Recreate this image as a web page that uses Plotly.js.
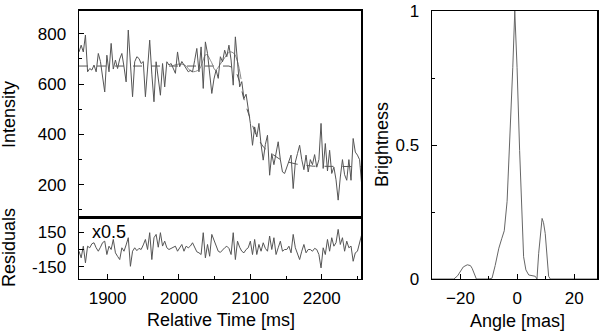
<!DOCTYPE html>
<html>
<head>
<meta charset="utf-8">
<script src="https://cdn.plot.ly/plotly-3.0.1.min.js"></script>
<style>
  html, body { margin: 0; padding: 0; background: #fff; }
  #plot { width: 600px; height: 334px; }
</style>
</head>
<body>
<div id="plot"></div>
<script>
// light curve samples (ms)
var time = [
  1860,1863,1866,1869,1872,1875,1878,1881,1884,1887,
  1890,1893,1896,1899,1902,1905,1908,1911,1914,1917,
  1920,1923,1926,1929,1932,1935,1938,1941,1944,1947,
  1950,1953,1956,1959,1962,1965,1968,1971,1974,1977,
  1980,1983,1986,1989,1992,1995,1998,2001,2004,2007,
  2010,2013,2016,2019,2022,2025,2028,2031,2034,2037,
  2040,2043,2046,2049,2052,2055,2058,2061,2064,2067,
  2070,2073,2076,2079,2082,2085,2088,2091,2094,2097,
  2100,2103,2106,2109,2112,2115,2118,2121,2124,2127,
  2130,2133,2136,2139,2142,2145,2148,2151,2154,2157,
  2160,2163,2166,2169,2172,2175,2178,2181,2184,2187,
  2190,2193,2196,2199,2202,2205,2208,2211,2214,2217,
  2220,2223,2226,2229,2232,2235,2238,2241,2244,2247,
  2250,2253,2256
];

var intensity = [
  728,755,728,795,649,662,656,676,649,722,
  690,630,569,715,649,762,660,696,662,700,
  722,669,609,815,700,550,689,709,702,682,
  690,550,660,775,640,530,689,629,556,682,
  589,689,676,682,662,643,728,669,690,676,
  660,649,655,649,695,742,649,748,583,768,
  722,650,563,620,656,623,709,689,735,709,
  755,696,596,788,696,589,610,543,560,510,
  444,357,430,390,444,360,298,360,397,238,
  324,280,330,371,300,251,245,270,300,318,
  185,290,324,357,300,260,318,251,300,280,
  320,270,300,444,265,364,255,337,245,270,
  220,139,231,300,240,218,300,218,384,330,
  318,300,198
];

var residuals = [
  -15,-73,29,-117,29,15,50,59,15,-15,
  20,60,73,-44,29,0,88,-29,-60,-88,
  15,-15,40,103,-147,-15,15,-10,10,0,
  40,88,0,147,-88,103,132,20,147,30,
  73,15,0,10,15,29,-15,20,44,-15,
  29,15,30,59,15,-20,-29,-44,147,-73,
  44,-59,132,88,30,-15,-25,0,15,29,
  10,-44,147,-88,73,20,-15,-29,0,15,
  73,-44,88,-44,44,-15,59,10,-15,118,
  0,103,-44,15,73,-15,0,0,29,-29,
  132,15,-40,-88,-15,44,-29,0,0,-15,
  10,0,-44,-161,15,-44,88,-15,103,29,
  59,176,44,103,-15,73,15,30,-103,-29,
  -15,73,132
];

// model curves
var modelTime = [1860,2070,2076,2081,2086,2090,2095,2100,2105,2109,2118,2125,2132,2140,2146,2155,2165,2175,2188,2256];
var modelValue = [672,672,665,642,600,550,503,457,420,390,351,333,318,304,295,288,282,278,274,272];

var fringeTime = [1990,2000,2008,2018,2028,2038,2045,2051,2058,2064,2071,2077,2082,2087];
var fringeValue = [672,680,676,650,658,718,690,656,680,705,728,722,690,620];

// brightness profile
var angle = [-30,-22.3,-21,-20,-19,-17.6,-16.5,-15.9,-14.7,-14.4,-10,-8.9,-7.8,-6.5,-5.5,-4.6,-3.6,-2.5,-1.6,-0.9,-0.1,0.8,1.6,2.2,3.0,4.0,6.3,6.9,7.5,8.7,9.2,9.8,11,11.6,28];
var brightness = [0,0,0.012,0.03,0.045,0.053,0.05,0.04,0.01,0,0,0.003,0.05,0.115,0.15,0.18,0.29,0.54,0.79,1.0,0.79,0.48,0.23,0.083,0.034,0.015,0.01,0,0.096,0.226,0.21,0.17,0.01,0,0];

var FONT = "Liberation Sans, Arial, sans-serif";
var tickFont = {family: FONT, size: 17, color: "#000"};

var traces = [
  {x: modelTime, y: modelValue, xaxis: "x2", yaxis: "y", mode: "lines",
   line: {color: "#555", width: 1, dash: "dash"}},
  {x: fringeTime, y: fringeValue, xaxis: "x2", yaxis: "y", mode: "lines",
   line: {color: "#888", width: 1, shape: "spline"}},
  {x: time, y: intensity, xaxis: "x2", yaxis: "y", mode: "lines",
   line: {color: "#555", width: 1}},
  {x: time, y: residuals, xaxis: "x", yaxis: "y2", mode: "lines",
   line: {color: "#555", width: 1}},
  {x: angle, y: brightness, xaxis: "x3", yaxis: "y3", mode: "lines",
   line: {color: "#666", width: 1}}
];

function ax(extra) {
  var a = {
    showline: true, linecolor: "#000", linewidth: 1.5, mirror: true,
    ticks: "inside", ticklen: 5, tickwidth: 1, tickcolor: "#000",
    showgrid: false, zeroline: false, tickfont: tickFont, fixedrange: true
  };
  for (var k in extra) a[k] = extra[k];
  return a;
}

var layout = {
  width: 600, height: 334,
  margin: {l: 0, r: 0, t: 0, b: 0},
  paper_bgcolor: "#fff", plot_bgcolor: "#fff",
  showlegend: false,
  font: {family: FONT, color: "#000"},
  // residuals (bottom left)
  xaxis: ax({domain: [0.1317, 0.6017], anchor: "y2", range: [1860, 2255],
    dtick: 100, tick0: 1900, ticklabelstandoff: 3,
    minor: {dtick: 50, ticks: "inside", ticklen: 3, tickcolor: "#000"}}),
  yaxis2: ax({domain: [0.1647, 0.3488], anchor: "x", range: [-258, 280],
    tickvals: [-150, 0, 150], ticktext: ["-150", "0", "150"], ticklabelstandoff: 8}),
  // intensity (top left)
  xaxis2: ax({domain: [0.1317, 0.6017], anchor: "y", matches: "x",
    showticklabels: false, ticks: "", linewidth: 1.5}),
  yaxis: ax({domain: [0.3488, 0.968], anchor: "x2", range: [70, 892],
    dtick: 200, tick0: 200, ticklabelstandoff: 8,
    minor: {dtick: 100, ticks: "inside", ticklen: 3, tickcolor: "#000"}}),
  // brightness (right)
  xaxis3: ax({domain: [0.72, 0.995], anchor: "y3", range: [-30, 28],
    dtick: 20, tick0: 0, mirror: true, ticklabelstandoff: 3,
    minor: {dtick: 10, ticks: "inside", ticklen: 3, tickcolor: "#000"}}),
  yaxis3: ax({domain: [0.1647, 0.967], anchor: "x3", range: [0, 1],
    tickvals: [0, 0.5, 1], ticktext: ["0", "0.5", "1"], ticklabelstandoff: 8,
    minor: {dtick: 0.25, ticks: "inside", ticklen: 3, tickcolor: "#000"}}),
  annotations: [
    {text: "Intensity", x: 9/600, y: 1 - 115/334, textangle: -90},
    {text: "Residuals", x: 9/600, y: 1 - 248/334, textangle: -90},
    {text: "Relative Time [ms]", x: 221/600, y: 1 - 320/334},
    {text: "Brightness", x: 382/600, y: 1 - 145/334, textangle: -90},
    {text: "Angle [mas]", x: 517/600, y: 1 - 321/334},
    {text: "x0.5", x: 109/600, y: 1 - 232/334}
  ].map(function (a) {
    a.xref = "paper"; a.yref = "paper"; a.showarrow = false;
    a.xanchor = "center"; a.yanchor = "middle";
    a.font = {family: FONT, size: 18, color: "#000"};
    return a;
  })
};

Plotly.newPlot("plot", traces, layout, {staticPlot: true, displayModeBar: false});
</script>
</body>
</html>
